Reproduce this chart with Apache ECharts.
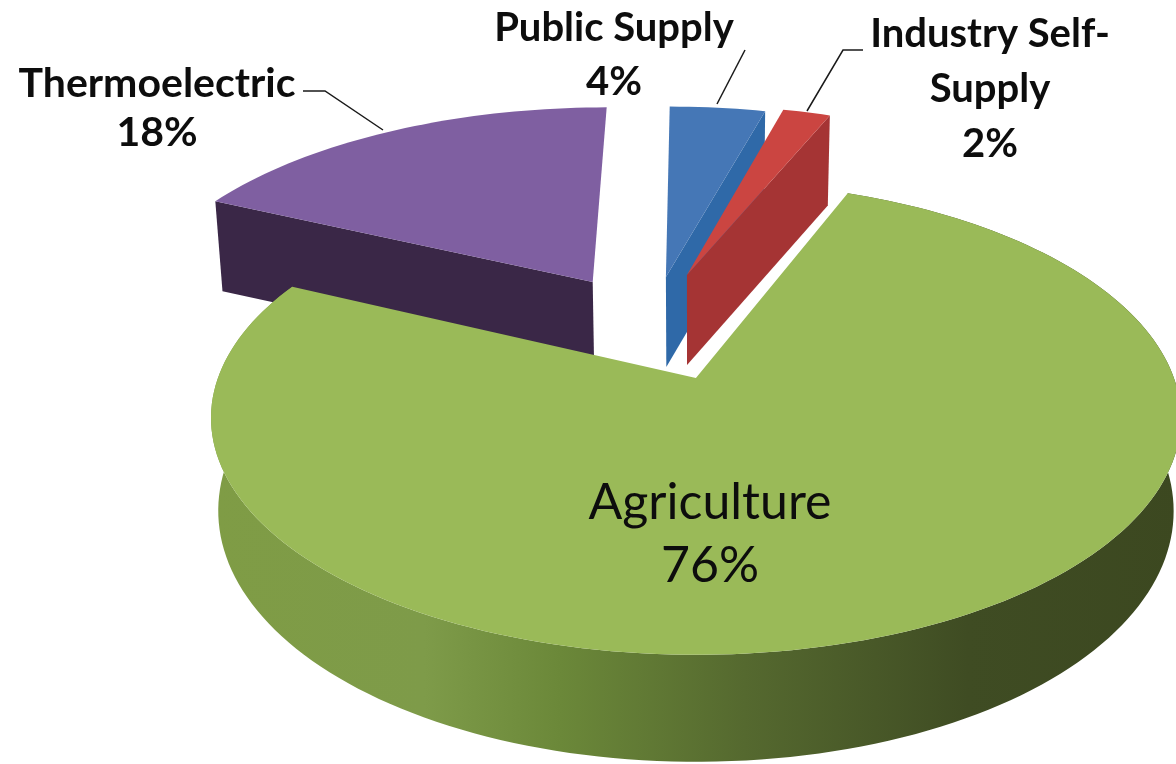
<!DOCTYPE html>
<html>
<head>
<meta charset="utf-8">
<title>Water use by sector</title>
<style>html,body{margin:0;padding:0;background:#fff}#chart{width:1176px;height:764px}</style>
<script src="https://cdn.jsdelivr.net/npm/echarts@6/dist/echarts.min.js"></script>
</head>
<body>
<div id="chart"></div>
<script>
// Sector shares, clockwise from twelve o'clock.
const categories = ['Public Supply', 'Industry Self-Supply', 'Agriculture', 'Thermoelectric'];
const shares = [4, 2, 76, 18];

// Perspective disc: centre, radius, foreshortening and perspective strength.
const disc = { cx: 694, cy: 378, rx: 478, ry: 230, k: 0.169 };
const thickness = 90;
const nearExtra = 17;
const baseShrink = 0.985;

// Per-slice presentation, same order as the categories.
const explode = [[-0.0635, 0.474], [-0.016, 0.4845], [0.004, 0], [-0.228, 0.449]];
const radiusScale = [1, 1, 1, 1.02];
const cutFace = ['end', 'end', null, 'start'];
const layers = [2, 3, 4, 1];
const topColors = ['#4577b6', '#cb4541', '#9aba58', '#7f5fa1'];
const wallColors = ['#2f69a8', '#a53434', null, '#3a2747'];
const labelCentres = [[614, 55], [990, 89], [710, 534], [157, 108]];
const labelLineHeights = [54, 55, 63, 49];
const labelFonts = ['bold 40px Lato', 'bold 40px Lato', '50px Lato', 'bold 41px Lato'];
const leaderLines = [
  [[745, 50], [717, 104]],
  [[863, 50], [843, 50], [807, 111]],
  null,
  [[303, 91], [325, 91], [383, 130]]
];

function wrapName(name) {
  return name.replace('Self-Supply', 'Self-\nSupply');
}

function project(u, v) {
  const w = 1 + disc.k * v;
  return [disc.cx + disc.rx * u / w, disc.cy - disc.ry * v / w];
}

function lowered(pt, v) {
  const depth = thickness + nearExtra * Math.max(-v, 0);
  return [disc.cx + (pt[0] - disc.cx) * baseShrink, pt[1] + depth];
}

function rimPoint(deg, off, scale) {
  const a = deg * Math.PI / 180;
  const u = Math.sin(a) * scale + off[0];
  const v = Math.cos(a) * scale + off[1];
  return { top: project(u, v), bottom: lowered(project(u, v), v) };
}

function renderSlice(params) {
  const i = params.dataIndex;
  const before = shares.slice(0, i).reduce((s, x) => s + x, 0);
  const total = shares.reduce((s, x) => s + x, 0);
  const start = before / total * 360;
  const end = (before + shares[i]) / total * 360;
  const off = explode[i];
  const z = layers[i];

  const apexTop = project(off[0], off[1]);
  const apexBottom = lowered(apexTop, off[1]);

  const rim = [];
  const steps = Math.max(6, Math.round((end - start) / 1.5));
  for (let s = 0; s <= steps; s++) {
    rim.push(rimPoint(start + (end - start) * s / steps, off, radiusScale[i]));
  }
  const children = [];

  if (cutFace[i]) {
    // Flat cut face of a pulled-out slice, on the side turned to the viewer.
    const edge = cutFace[i] === 'end' ? rim[rim.length - 1] : rim[0];
    children.push({
      type: 'polygon', z2: z,
      shape: { points: [apexTop, edge.top, edge.bottom, apexBottom] },
      style: { fill: wallColors[i] }
    });
  } else {
    // Curved outer wall, shaded from lit left to dark right.
    children.push({
      type: 'polygon', z2: z,
      shape: { points: rim.map(p => p.top).concat(rim.map(p => p.bottom).reverse()) },
      style: {
        fill: new echarts.graphic.LinearGradient(0, 0, 1, 0, [
          { offset: 0, color: '#7f9c45' },
          { offset: 0.22, color: '#7e9b49' },
          { offset: 0.36, color: '#6b8839' },
          { offset: 0.55, color: '#55692f' },
          { offset: 0.78, color: '#3f4c23' },
          { offset: 1, color: '#3c4820' }
        ])
      }
    });
  }

  children.push({
    type: 'polygon', z2: z,
    shape: { points: [apexTop].concat(rim.map(p => p.top)) },
    style: { fill: topColors[i] }
  });

  if (leaderLines[i]) {
    children.push({
      type: 'polyline', z2: 9,
      shape: { points: leaderLines[i] },
      style: { fill: null, stroke: '#1a1a1a', lineWidth: 1.5 }
    });
  }

  children.push({
    type: 'text', z2: 10,
    x: labelCentres[i][0], y: labelCentres[i][1],
    style: {
      text: wrapName(categories[i]) + '\n' + shares[i] + '%',
      font: labelFonts[i],
      lineHeight: labelLineHeights[i],
      fill: '#0d0d0d',
      align: 'center',
      verticalAlign: 'middle'
    }
  });

  return { type: 'group', children };
}

const chart = echarts.init(document.getElementById('chart'), null, { renderer: 'canvas' });
chart.setOption({
  backgroundColor: '#ffffff',
  animation: false,
  series: [{
    type: 'custom',
    coordinateSystem: 'none',
    silent: true,
    data: shares,
    renderItem: renderSlice
  }]
});
</script>
</body>
</html>
